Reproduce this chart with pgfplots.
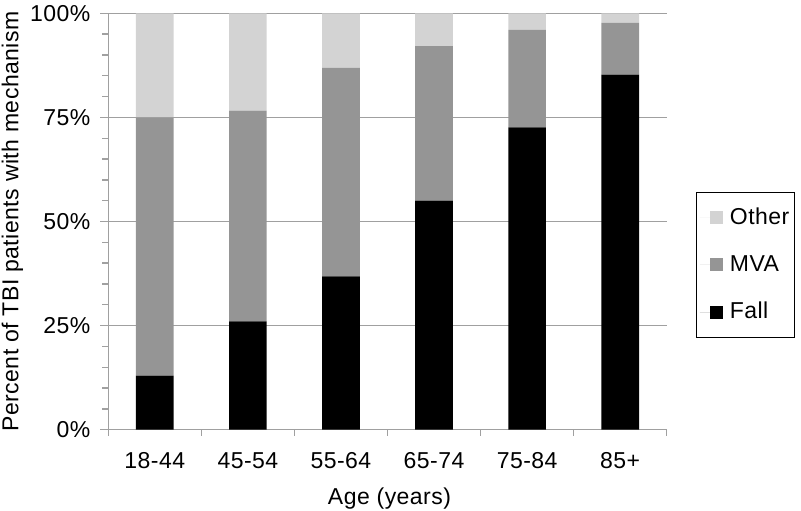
\documentclass[border=0pt]{standalone}
\usepackage{fontspec}
\setmainfont{Liberation Sans}[LetterSpace=2]
\usepackage{pgfplots}
\pgfplotsset{compat=1.18}
\definecolor{cother}{RGB}{211,211,211}
\definecolor{cmva}{RGB}{149,149,149}
\definecolor{cgrid}{RGB}{160,160,160}
\begin{document}
\fontsize{23bp}{27bp}\selectfont
\begin{tikzpicture}
\useasboundingbox (-108.3bp,-81.3bp) rectangle (692.7bp,429.7bp);
\begin{axis}[
  at={(0,0)}, anchor=south west,
  scale only axis,
  width=558.4bp, height=416.4bp,
  ybar stacked,
  bar width=0.405,
  xmin=-0.5, xmax=5.5,
  ymin=0, ymax=100,
  axis x line*=bottom, axis y line*=left,
  axis line style={cgrid, line width=1.3bp, -},
  xtick={0,...,5},
  xticklabels={18-44,45-54,55-64,65-74,75-84,85+},
  minor xtick={-0.5,0.5,1.5,2.5,3.5,4.5,5.5},
  ytick={0,25,50,75,100},
  yticklabels={0\%,25\%,50\%,75\%,100\%},
  minor ytick={5,10,15,20,30,35,40,45,55,60,65,70,80,85,90,95},
  tick align=outside,
  major x tick style={draw=none},
  minor x tick style={cgrid, line width=1.3bp},
  minor y tick style={cgrid, line width=1.3bp},
  major y tick style={cgrid, line width=1.3bp},
  major tick length=8bp,
  minor tick length=6bp,
  ymajorgrids,
  major grid style={cgrid, line width=1.3bp},
  xticklabel style={anchor=base, yshift=-30.5bp},
  yticklabel style={xshift=-2bp},
  xlabel={Age (years)},
  ylabel={Percent of TBI patients with mechanism},
  xlabel style={at={(axis description cs:0.5,0)}, anchor=base, yshift=-74.5bp, xshift=2bp},
  ylabel style={at={(axis description cs:-0.161,0.5)}, anchor=base},
  legend style={at={(axis description cs:1.0532,0.5716)}, anchor=north west,
    draw=black, line width=1bp, inner xsep=3bp, inner ysep=13.5bp,
    row sep=23.5bp, legend cell align=left,
    /tikz/every odd column/.append style={column sep=5bp}},
  legend image code/.code={\path (0bp,0bp) -- (23bp,0bp);\fill[#1] (10bp,-6.5bp) rectangle (23bp,6.5bp);},
  reverse legend,
]
\addplot[fill=black, draw=none] coordinates {(0,13) (1,26) (2,36.8) (3,55) (4,72.6) (5,85.3)};
\addplot[fill=cmva, draw=none] coordinates {(0,62) (1,50.6) (2,50.1) (3,37.1) (4,23.4) (5,12.4)};
\addplot[fill=cother, draw=none] coordinates {(0,25) (1,23.4) (2,13.1) (3,7.9) (4,4) (5,2.3)};
\legend{Fall,MVA,Other}
\end{axis}
\end{tikzpicture}
\end{document}
